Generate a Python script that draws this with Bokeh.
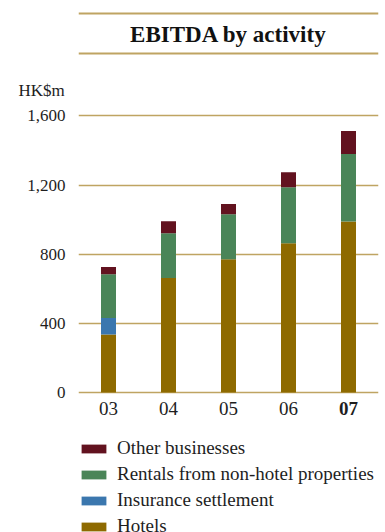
from bokeh.plotting import figure
from bokeh.layouts import column
from bokeh.models import (ColumnDataSource, Range1d, Label, LabelSet, Span, Title,
                          Legend, LegendItem, NumeralTickFormatter, FixedTicker)
from bokeh.embed import file_html
from bokeh.resources import INLINE

# EBITDA by activity, HK$m
years = ["03", "04", "05", "06", "07"]
hotels = [336, 663, 771, 864, 989]
insurance = [95, 0, 0, 0, 0]
rentals = [253, 259, 261, 323, 391]
other = [42, 69, 58, 88, 133]

series = ["hotels", "insurance", "rentals", "other"]
series_labels = ["Hotels", "Insurance settlement",
                 "Rentals from non-hotel properties", "Other businesses"]
colors = ["#8E6A00", "#3B77AE", "#4A8558", "#62121F"]
y_ticks = [0, 400, 800, 1200, 1600]

SERIF = "Liberation Serif"
GOLD = "#BFA462"
INK = "#1E1E1E"

# ---- title band -------------------------------------------------------
head = figure(width=385, height=60, x_range=Range1d(0, 1), y_range=Range1d(0, 1),
              x_axis_location=None, y_axis_location=None,
              output_backend="svg", toolbar_location=None,
              min_border_left=78, min_border_right=7,
              min_border_top=0, min_border_bottom=0)
head.outline_line_color = None
head.grid.visible = False
head.add_layout(Span(location=47, location_units="screen", dimension="width",
                     line_color=GOLD, line_width=2))
head.add_layout(Span(location=7, location_units="screen", dimension="width",
                     line_color=GOLD, line_width=2))
head.add_layout(Label(x=150, y=26, x_units="screen", y_units="screen",
                      text="EBITDA by activity", text_font=SERIF,
                      text_font_size="23px", text_font_style="bold",
                      text_color="#111111", text_align="center",
                      text_baseline="middle"))

# ---- stacked bars -----------------------------------------------------
source = ColumnDataSource(dict(years=years, hotels=hotels, insurance=insurance,
                               rentals=rentals, other=other))

p = figure(x_range=years, y_range=Range1d(-810, 1620), width=385, height=472,
           x_axis_location=None,
           output_backend="svg", toolbar_location=None,
           min_border_left=78, min_border_right=7,
           min_border_top=52, min_border_bottom=0)
p.outline_line_color = None

renderers = p.vbar_stack(series, x="years", width=0.25, color=colors,
                         source=source, line_color=None)

p.yaxis.ticker = FixedTicker(ticks=y_ticks)
p.yaxis.formatter = NumeralTickFormatter(format="0,0")
p.yaxis.axis_line_color = None
p.yaxis.major_tick_line_color = None
p.yaxis.minor_tick_line_color = None
p.yaxis.major_label_standoff = 7
p.yaxis.major_label_text_font = SERIF
p.yaxis.major_label_text_font_size = "17px"
p.yaxis.major_label_text_color = INK

p.xgrid.grid_line_color = None
p.ygrid.grid_line_color = GOLD
p.ygrid.grid_line_width = 1.5

# unit caption above the value axis
p.add_layout(Title(text="HK$m", align="left", offset=-60, standoff=26,
                   text_font=SERIF, text_font_size="17px",
                   text_font_style="normal", text_color=INK), "above")

# year labels under the bars, latest year in bold
year_src = ColumnDataSource(dict(
    x=years, y=[0] * len(years), t=years,
    weight=["bold" if y == years[-1] else "normal" for y in years]))
p.add_layout(LabelSet(x="x", y="y", text="t", source=year_src, y_offset=-16,
                      text_font=SERIF, text_font_size="19px",
                      text_font_style={"field": "weight"}, text_color=INK,
                      text_align="center", text_baseline="middle"))

# legend, top series first
items = [LegendItem(label=lab, renderers=[r])
         for lab, r in reversed(list(zip(series_labels, renderers)))]
legend = Legend(items=items, location=(0, -5), orientation="vertical",
                padding=0, margin=0, spacing=4, border_line_color=None,
                background_fill_alpha=0, glyph_width=31, glyph_height=11,
                label_standoff=8, label_height=21,
                label_text_font=SERIF, label_text_font_size="19px",
                label_text_color=INK)
p.add_layout(legend, "center")

open("out.html", "w").write(file_html(column(head, p), INLINE))
